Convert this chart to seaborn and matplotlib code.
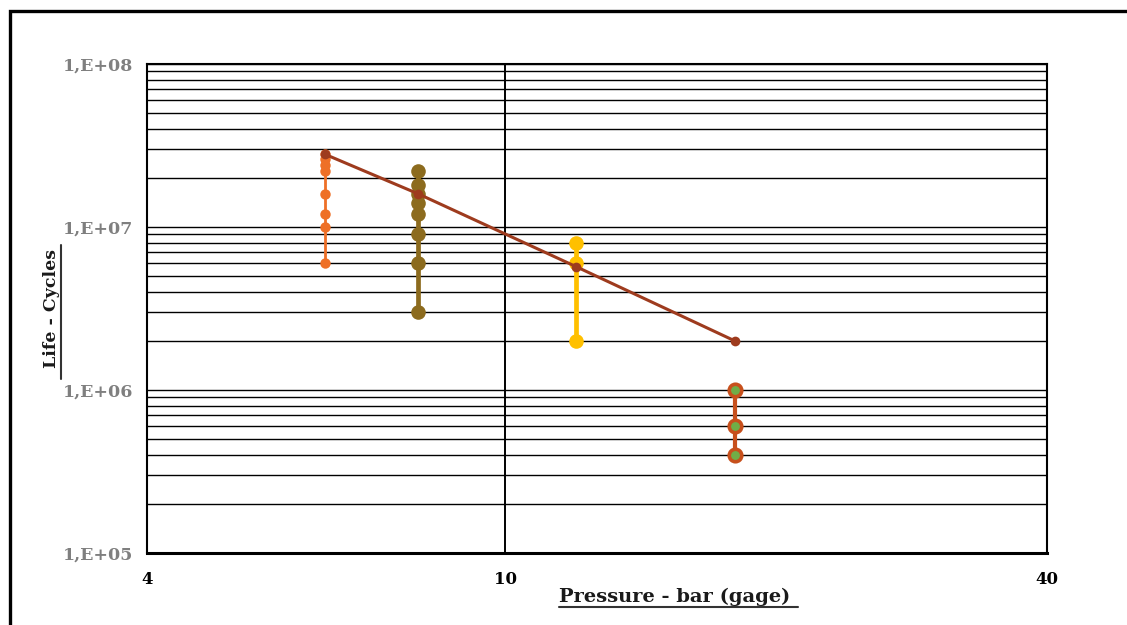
import matplotlib
matplotlib.use("Agg")
import matplotlib.pyplot as plt
import seaborn as sns
import pandas as pd
from matplotlib.ticker import FixedLocator, FixedFormatter, LogLocator, NullLocator, NullFormatter
from matplotlib.lines import Line2D
from matplotlib.patches import Rectangle

# Test pressures (bar gage) and measured life at each pressure
pressure_levels = [6.3, 8.0, 12.0, 18.0]
life_at_6_3 = [6.0e6, 1.0e7, 1.2e7, 1.6e7, 2.2e7, 2.4e7, 2.6e7, 2.8e7]
life_at_8 = [3.0e6, 6.0e6, 9.0e6, 1.2e7, 1.4e7, 1.6e7, 1.8e7, 2.2e7]
life_at_12 = [2.0e6, 6.0e6, 8.0e6]
life_at_18 = [4.0e5, 6.0e5, 1.0e6]
trend_life = [2.8e7, 1.6e7, 5.7e6, 2.0e6]

x_ticks = [4, 10, 40]
x_tick_labels = ["4", "10", "40"]
y_ticks = [1e5, 1e6, 1e7, 1e8]
y_tick_labels = ["1,E+05", "1,E+06", "1,E+07", "1,E+08"]

sns.set_theme(style="white")
plt.rcParams["font.family"] = ["DejaVu Serif"]
plt.rcParams["font.weight"] = "bold"

W, H = 1127, 625
fig = plt.figure(figsize=(W / 100, H / 100), dpi=100)
ax = fig.add_axes([147 / W, 1 - 553 / H, 900 / W, 489 / H])
ax.set_xscale("log")
ax.set_yscale("log")

series_styles = [
    (life_at_6_3, dict(color="#EE7027", lw=2.0, markersize=7.5, markeredgewidth=0)),
    (life_at_8, dict(color="#8C6B1E", lw=3.4, markersize=10.5, markeredgewidth=0)),
    (life_at_12, dict(color="#FFC000", lw=3.4, markersize=10.5, markeredgewidth=0)),
    (life_at_18, dict(color="#C7501C", lw=3.0, markersize=9,
                      markerfacecolor="#70AD47", markeredgecolor="#C7501C",
                      markeredgewidth=2.6)),
]
for p, (life, style) in zip(pressure_levels, series_styles):
    df = pd.DataFrame({"pressure": [p] * len(life), "life": life})
    sns.lineplot(data=df, x="pressure", y="life", ax=ax, estimator=None,
                 sort=False, marker="o", zorder=3, **style)

trend = pd.DataFrame({"pressure": pressure_levels, "life": trend_life})
sns.lineplot(data=trend, x="pressure", y="life", ax=ax, estimator=None,
             sort=False, marker="o", color="#9E3B1E", lw=2.2, markersize=7,
             markeredgewidth=0, zorder=4)

ax.set_xlim(4, 40)
ax.set_ylim(1e5, 1e8)

ax.xaxis.set_major_locator(FixedLocator(x_ticks))
ax.xaxis.set_major_formatter(FixedFormatter(x_tick_labels))
ax.xaxis.set_minor_locator(NullLocator())
ax.yaxis.set_major_locator(FixedLocator(y_ticks))
ax.yaxis.set_major_formatter(FixedFormatter(y_tick_labels))
ax.yaxis.set_minor_locator(LogLocator(base=10, subs=range(2, 10)))
ax.yaxis.set_minor_formatter(NullFormatter())

ax.set_axisbelow(True)
ax.grid(which="both", axis="y", color="black", lw=1.0)
ax.grid(which="major", axis="x", color="black", lw=1.4)

for side, spine in ax.spines.items():
    spine.set_visible(True)
    spine.set_color("black")
    spine.set_linewidth(2.2 if side == "bottom" else 1.5)

ax.tick_params(axis="both", which="both", length=0)
ax.tick_params(axis="y", labelsize=12.5, labelcolor="#7F7F7F", pad=10)
ax.tick_params(axis="x", labelsize=12, labelcolor="black", pad=13)

ax.set_xlabel("Pressure - bar (gage)", fontsize=14, fontweight="bold", color="#1A1A1A")
ax.set_ylabel("Life - Cycles", fontsize=12.5, fontweight="bold", color="#1A1A1A")
ax.xaxis.set_label_coords(0.5867, -0.072)
ax.yaxis.set_label_coords(-0.097, 0.5)

# Underline both axis titles
fig.canvas.draw()
renderer = fig.canvas.get_renderer()
inv = fig.transFigure.inverted()
bx = ax.xaxis.label.get_window_extent(renderer)
pts = inv.transform([(bx.x0, bx.y0 - 1), (bx.x1 + 7, bx.y0 - 1)])
fig.add_artist(Line2D(pts[:, 0], pts[:, 1], color="#333333", lw=1.5))
by = ax.yaxis.label.get_window_extent(renderer)
pts = inv.transform([(by.x1 + 1, by.y0 - 11), (by.x1 + 1, by.y1 + 4)])
fig.add_artist(Line2D(pts[:, 0], pts[:, 1], color="#333333", lw=1.5))

# Outer frame
fig.add_artist(Rectangle((9.5 / W, -0.5), 2.0, 1.5 - 10.5 / H, transform=fig.transFigure,
                         fill=False, ec="black", lw=2.4))

fig.savefig("out.png", dpi=100)
